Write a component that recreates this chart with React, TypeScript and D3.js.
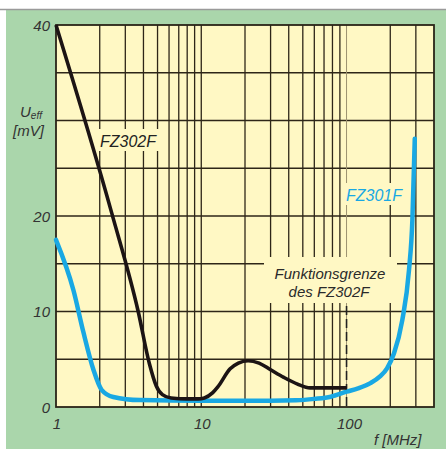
import React from "react";
import * as d3 from "d3";

// ---- data ----
const fz302fFreq = [1, 2.42, 3.68, 4.4, 4.9, 5.4, 6.2, 8, 9.5, 10.5, 12, 13, 15.8, 18, 21, 25, 30, 37, 46, 56, 70, 100];
const fz302fVolt = [40, 20.3, 10, 4.5, 2.2, 1.3, 0.95, 0.85, 0.85, 0.95, 1.5, 2.1, 4.0, 4.6, 4.85, 4.6, 3.9, 3.1, 2.4, 2.0, 2.0, 2.0];

const fz301fFreq = [1, 1.32, 1.54, 1.81, 2.06, 2.48, 3.79, 10, 30, 45, 60, 78, 100, 120, 146, 170, 190, 212, 242, 269, 284, 295];
const fz301fVolt = [17.5, 12.2, 7.9, 3.9, 1.8, 1.05, 0.72, 0.65, 0.65, 0.7, 0.85, 1.08, 1.6, 1.95, 2.5, 3.2, 4.05, 5.6, 9.1, 14.3, 19.6, 28.1];

const xGridValues = [2, 3, 4, 5, 6, 7, 8, 9, 10, 20, 30, 40, 50, 60, 70, 80, 90, 200, 300];
const xLabelValues = [1, 10, 100];
const yGridValues = [5, 10, 15, 20, 25, 30, 35];
const yLabelValues = [0, 10, 20, 40];
const limitFreq = 100;

const W = 446, H = 449;
const L = 56, R = 434, T = 25, B = 407;

const FONT = "'Liberation Sans', Arial, sans-serif";
const TEXT = "#333";
const GRID = "#2e2618";
const BLUE = "#19a8e3";
const YELLOW = "#fff8c4";
const GREEN = "#aad6ab";

export default function App() {
  const x = d3.scaleLog().domain([1, 400]).range([L, R]);
  const y = d3.scaleLinear().domain([0, 40]).range([B, T]);

  const line = d3
    .line<[number, number]>()
    .x((d) => x(d[0]))
    .y((d) => y(d[1]))
    .curve(d3.curveMonotoneX);

  const blackPts = fz302fFreq.map((f, i) => [f, fz302fVolt[i]] as [number, number]);
  const bluePts = fz301fFreq.map((f, i) => [f, fz301fVolt[i]] as [number, number]);

  return (
    <svg
      width={W}
      height={H}
      style={{ position: "absolute", left: 0, top: 0, background: "#fff" }}
    >
      <rect x={0} y={0} width={W} height={H} fill="#fff" />
      <rect x={6} y={10} width={W - 6} height={H - 10} fill={GREEN} />
      <line x1={0} x2={W} y1={9.5} y2={9.5} stroke="#9a9a9a" strokeWidth={1.5} />

      {/* plot area */}
      <rect x={L} y={T} width={R - L} height={B - T} fill={YELLOW} />

      {/* horizontal grid */}
      {yGridValues.map((v) => (
        <line key={"h" + v} x1={L} x2={R} y1={y(v)} y2={y(v)} stroke={GRID} strokeWidth={1.3} />
      ))}
      {/* vertical grid */}
      {xGridValues.map((v) => (
        <line key={"v" + v} x1={x(v)} x2={x(v)} y1={T} y2={B} stroke={GRID} strokeWidth={1.3} />
      ))}
      {/* 100 MHz line: light above, dashed below */}
      <line x1={x(limitFreq)} x2={x(limitFreq)} y1={T} y2={B} stroke="#9c9270" strokeWidth={1} />

      {/* label backgrounds masking grid */}
      <rect x={97} y={129} width={62} height={22} fill={YELLOW} />
      <rect x={264} y={257} width={133} height={46} fill={YELLOW} />
      <rect x={342} y={183} width={63} height={22} fill={YELLOW} />

      <line
        x1={x(limitFreq)}
        x2={x(limitFreq)}
        y1={306}
        y2={B}
        stroke="#222"
        strokeWidth={1.6}
        strokeDasharray="9 4"
      />

      {/* border */}
      <rect x={L} y={T} width={R - L} height={B - T} fill="none" stroke="#2a2418" strokeWidth={1.8} />

      {/* curves */}
      <path d={line(bluePts) || ""} fill="none" stroke={BLUE} strokeWidth={4.5} strokeLinejoin="round" strokeLinecap="round" />
      <path d={line(blackPts) || ""} fill="none" stroke="#1c1414" strokeWidth={3.6} strokeLinejoin="round" strokeLinecap="butt" />

      {/* curve labels */}
      <text x={128} y={147} fontFamily={FONT} fontStyle="italic" fontSize={16} fill="#222" textAnchor="middle">FZ302F</text>
      <text x={374} y={201} fontFamily={FONT} fontStyle="italic" fontSize={16} fill={BLUE} textAnchor="middle">FZ301F</text>
      <text x={330} y={279} fontFamily={FONT} fontStyle="italic" fontSize={15} fill="#2a2a2a" textAnchor="middle">Funktionsgrenze</text>
      <text x={329} y={297} fontFamily={FONT} fontStyle="italic" fontSize={15} fill="#2a2a2a" textAnchor="middle">des FZ302F</text>

      {/* y labels */}
      {yLabelValues.map((v) => (
        <text key={"yl" + v} x={50} y={y(v) + 5.5} fontFamily={FONT} fontStyle="italic" fontSize={15} fill={TEXT} textAnchor="end">
          {v}
        </text>
      ))}
      {/* x labels */}
      {xLabelValues.map((v) => (
        <text key={"xl" + v} x={x(v) + (v === 100 ? 3 : 1)} y={429} fontFamily={FONT} fontStyle="italic" fontSize={15} fill={TEXT} textAnchor="middle">
          {v}
        </text>
      ))}

      {/* axis titles */}
      <text x={20} y={117} fontFamily={FONT} fontStyle="italic" fontSize={15} fill={TEXT}>
        U<tspan fontSize={10} dy={2}>eff</tspan>
      </text>
      <text x={13} y={136} fontFamily={FONT} fontStyle="italic" fontSize={15} fill={TEXT}>[mV]</text>
      <text x={374} y={445} fontFamily={FONT} fontStyle="italic" fontSize={15} fill={TEXT}>f [MHz]</text>
    </svg>
  );
}
